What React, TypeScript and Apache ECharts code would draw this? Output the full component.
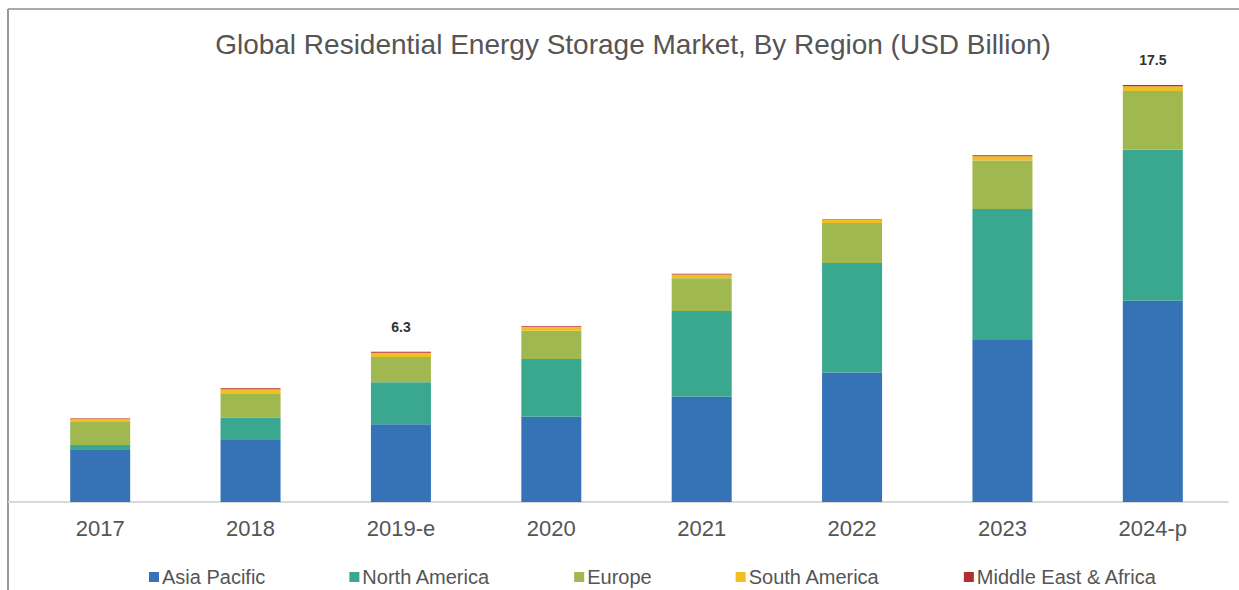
import React, { useEffect, useRef } from "react";
import * as echarts from "echarts";

const categories = ["2017", "2018", "2019-e", "2020", "2021", "2022", "2023", "2024-p"];
const asiaPacific = [2.18, 2.6, 3.26, 3.58, 4.42, 5.43, 6.8, 8.45];
const northAmerica = [0.21, 0.95, 1.76, 2.42, 3.6, 4.6, 5.5, 6.33];
const europe = [0.97, 0.98, 1.07, 1.19, 1.37, 1.68, 2.03, 2.47];
const southAmerica = [0.13, 0.2, 0.17, 0.15, 0.16, 0.13, 0.18, 0.2];
const middleEastAfrica = [0.02, 0.04, 0.04, 0.03, 0.03, 0.03, 0.04, 0.05];
const totalLabels = ["", "", "6.3", "", "", "", "", "17.5"];

const seriesNames = ["Asia Pacific", "North America", "Europe", "South America", "Middle East & Africa"];
const seriesData = [asiaPacific, northAmerica, europe, southAmerica, middleEastAfrica];
const colors = ["#3673b6", "#3aa78f", "#9fb84f", "#efbf24", "#b0302f"];

export default function App() {
  const ref = useRef<HTMLDivElement>(null);
  useEffect(() => {
    if (!ref.current) return;
    const chart = echarts.init(ref.current, undefined, { renderer: "svg" });
    const series: any[] = seriesNames.map((name, i) => ({
      name,
      type: "bar",
      stack: "total",
      barWidth: 60,
      data: seriesData[i],
      itemStyle: { color: colors[i] },
      label:
        i === seriesNames.length - 1
          ? {
              show: true,
              position: "top",
              distance: 18,
              formatter: (p: any) => totalLabels[p.dataIndex],
              color: "#333",
              fontWeight: "bold",
              fontSize: 14,
              fontFamily: "Liberation Sans",
            }
          : { show: false },
    }));
    chart.setOption({
      animation: false,
      backgroundColor: "#fff",
      color: colors,
      title: {
        text: "Global Residential Energy Storage Market, By Region (USD Billion)",
        left: 628,
        textAlign: "center",
        top: 25,
        textStyle: {
          fontFamily: "Liberation Sans",
          fontWeight: "normal",
          fontSize: 28,
          color: "#555",
        },
      },
      legend: {
        left: 144,
        top: 562,
        itemWidth: 10,
        itemHeight: 10,
        itemGap: 84,
        icon: "rect",
        textStyle: { fontFamily: "Liberation Sans", fontSize: 20, color: "#555", padding: [0, 0, 0, -2] },
        data: seriesNames,
      },
      grid: { left: 25, right: 11, top: 25.4, bottom: 88 },
      xAxis: {
        type: "category",
        data: categories,
        axisTick: { show: false },
        axisLine: { lineStyle: { color: "#d9d9d9", width: 2 } },
        axisLabel: { fontFamily: "Liberation Sans", fontSize: 22, color: "#555", margin: 15 },
      },
      yAxis: { type: "value", min: 0, max: 20, show: false, splitLine: { show: false } },
      series,
      graphic: [
        { type: "line", shape: { x1: 8, y1: 9, x2: 1239, y2: 9 }, style: { stroke: "#aaa", lineWidth: 2 } },
        { type: "line", shape: { x1: 8, y1: 9, x2: 8, y2: 590 }, style: { stroke: "#999", lineWidth: 2 } },
        { type: "line", shape: { x1: 8, y1: 502, x2: 25, y2: 502 }, style: { stroke: "#d9d9d9", lineWidth: 2 } },
      ],
    });
    return () => chart.dispose();
  }, []);
  return <div ref={ref} style={{ position: "fixed", left: 0, top: 0, width: 1239, height: 590 }} />;
}
